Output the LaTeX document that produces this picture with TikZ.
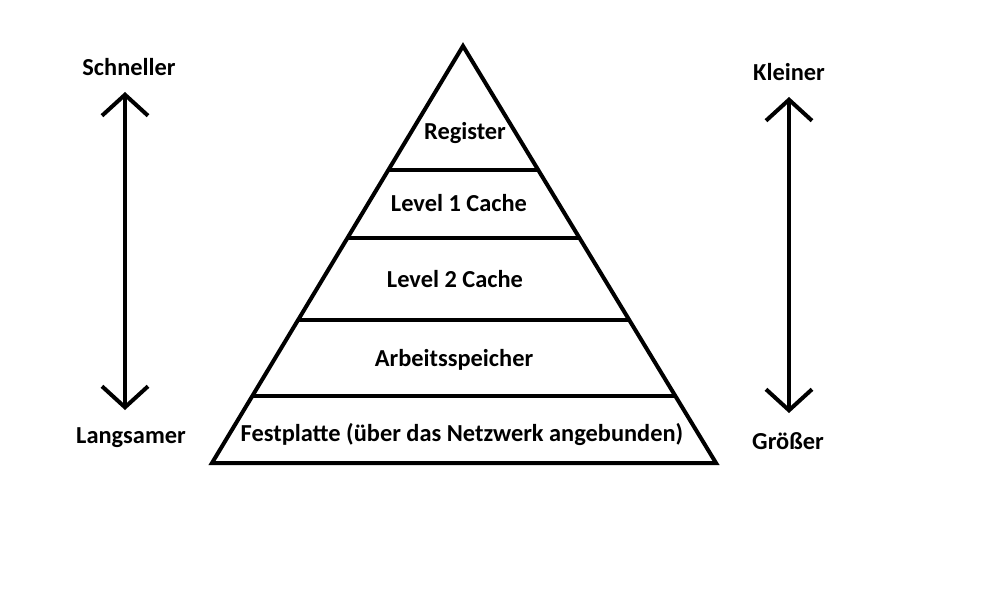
\documentclass[tikz,border=0pt]{standalone}
\usepackage{fontspec}
\setmainfont{Carlito}
\usetikzlibrary{calc}
\usetikzlibrary{arrows.meta}
\usetikzlibrary{positioning}

\begin{document}
\begin{tikzpicture}[x=1pt, y=-1pt, line width=4pt,
	lbl/.style={inner sep=0pt, font=\bfseries\fontsize{24.4}{28}\selectfont}]

\useasboundingbox (0,0) rectangle (987,596);

\coordinate (top) at (463,46);
\coordinate (bl) at (212,463);
\coordinate (br) at (716,463);

\draw [line join=miter] (top) -- (bl) -- (br) -- cycle;

% layer separators
\foreach \t/\n in {0.2974/a, 0.4604/b, 0.6571/c, 0.8393/d} {
	\coordinate (l\n) at ($(top)!\t!(bl)$);
	\coordinate (r\n) at ($(top)!\t!(br)$);
	\draw (l\n) -- (r\n);
}

\node at (465,133) [lbl] (reg) {Register};
\node at (459,203) [lbl] (l1) {Level 1 Cache};
\node at (455,279) [lbl] (l2) {Level 2 Cache};
\node at (454,360) [lbl] (ram) {Arbeitsspeicher};
\node at (462,435) [lbl] (hdd) {Festplatte (über das Netzwerk angebunden)};

\node at (129,67) [lbl] (fast) {Schneller};
\node at (131,438) [lbl] (slow) {Langsamer};
\node at (789,72) [lbl] (small) {Kleiner};
\node at (788,441) [lbl] (big) {Größer};

\coordinate (fa) at (125,92);
\coordinate (sa) at (125,410);
\coordinate (ka) at (789,97);
\coordinate (ga) at (789,413);

\begin{scope}[>={Straight Barb[length=21pt, width=46pt]}]
	\draw [<->] (fa) -- (sa);
	\draw [<->] (ka) -- (ga);
\end{scope}

\end{tikzpicture}
\end{document}
